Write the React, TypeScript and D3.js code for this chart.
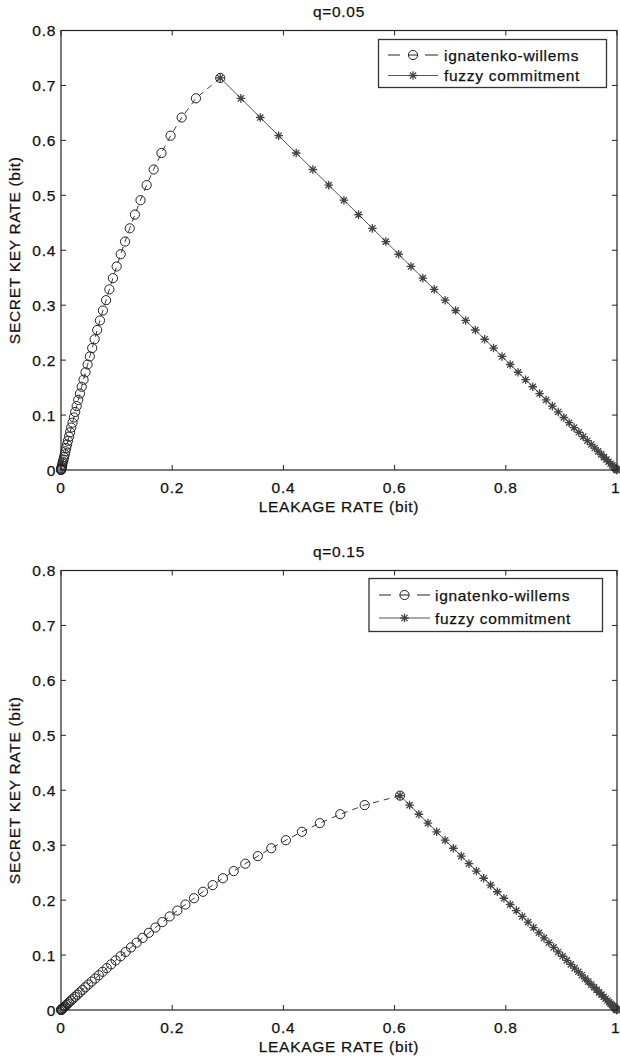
import React from "react";
import * as d3 from "d3";

// ---------- data ----------
const panelTitles = ["q=0.05", "q=0.15"];
const seriesNames = ["ignatenko-willems", "fuzzy commitment"];
const leakageTicks = [0, 0.2, 0.4, 0.6, 0.8, 1];
const keyTicks = [0, 0.1, 0.2, 0.3, 0.4, 0.5, 0.6, 0.7, 0.8];

// q = 0.05
const iwLeak05 = [0.2864, 0.2427, 0.217, 0.1971, 0.1807, 0.1666, 0.1541, 0.143, 0.1329, 0.1236, 0.1152, 0.1074, 0.1001, 0.0934, 0.087, 0.0811, 0.0754, 0.0701, 0.0651, 0.0605, 0.0561, 0.0518, 0.0478, 0.0441, 0.0406, 0.0372, 0.0341, 0.031, 0.0282, 0.0256, 0.0231, 0.0207, 0.0184, 0.0164, 0.0145, 0.0126, 0.0109, 0.0093, 0.008, 0.0068, 0.0055, 0.0045, 0.0034, 0.0027, 0.0019, 0.0013, 0.0009, 0.0005, 0.0003, 0.0001, 0];
const iwKey05 = [0.7136, 0.6765, 0.6416, 0.6085, 0.577, 0.547, 0.5185, 0.4911, 0.4649, 0.4399, 0.4158, 0.3927, 0.3705, 0.3492, 0.3288, 0.3091, 0.2903, 0.2722, 0.2548, 0.238, 0.222, 0.2067, 0.192, 0.1779, 0.1644, 0.1515, 0.1392, 0.1275, 0.1163, 0.1057, 0.0956, 0.0861, 0.0772, 0.0687, 0.0607, 0.0533, 0.0464, 0.04, 0.034, 0.0284, 0.0235, 0.019, 0.0151, 0.0115, 0.0085, 0.0059, 0.0037, 0.0021, 0.0009, 0.0002, 0];
const fcLeak05 = [0.2864, 0.3235, 0.3584, 0.3915, 0.423, 0.453, 0.4815, 0.5089, 0.5351, 0.5601, 0.5842, 0.6073, 0.6295, 0.6508, 0.6712, 0.6909, 0.7097, 0.7278, 0.7452, 0.762, 0.778, 0.7933, 0.808, 0.8221, 0.8356, 0.8485, 0.8608, 0.8725, 0.8837, 0.8943, 0.9044, 0.9139, 0.9228, 0.9313, 0.9393, 0.9467, 0.9536, 0.96, 0.966, 0.9716, 0.9765, 0.981, 0.9849, 0.9885, 0.9915, 0.9941, 0.9963, 0.9979, 0.9991, 0.9998, 1];
const fcKey05 = [0.7136, 0.6765, 0.6416, 0.6085, 0.577, 0.547, 0.5185, 0.4911, 0.4649, 0.4399, 0.4158, 0.3927, 0.3705, 0.3492, 0.3288, 0.3091, 0.2903, 0.2722, 0.2548, 0.238, 0.222, 0.2067, 0.192, 0.1779, 0.1644, 0.1515, 0.1392, 0.1275, 0.1163, 0.1057, 0.0956, 0.0861, 0.0772, 0.0687, 0.0607, 0.0533, 0.0464, 0.04, 0.034, 0.0284, 0.0235, 0.019, 0.0151, 0.0115, 0.0085, 0.0059, 0.0037, 0.0021, 0.0009, 0.0002, 0];

// q = 0.15
const iwLeak15 = [0.6098, 0.5462, 0.5023, 0.4655, 0.4333, 0.4045, 0.3782, 0.354, 0.3315, 0.3106, 0.2912, 0.2728, 0.2554, 0.2392, 0.2238, 0.2092, 0.1954, 0.1823, 0.1698, 0.158, 0.1468, 0.136, 0.1259, 0.1163, 0.1072, 0.0984, 0.0902, 0.0823, 0.0749, 0.068, 0.0614, 0.0551, 0.0492, 0.0438, 0.0386, 0.0338, 0.0294, 0.0253, 0.0215, 0.018, 0.0148, 0.012, 0.0094, 0.0073, 0.0053, 0.0037, 0.0023, 0.0013, 0.0006, 0.0002, 0];
const iwKey15 = [0.3902, 0.373, 0.3563, 0.3401, 0.3244, 0.3091, 0.2944, 0.2801, 0.2663, 0.2529, 0.2398, 0.2273, 0.2152, 0.2034, 0.192, 0.181, 0.1703, 0.16, 0.1501, 0.1405, 0.1313, 0.1225, 0.1139, 0.1057, 0.0978, 0.0903, 0.0831, 0.0762, 0.0696, 0.0633, 0.0573, 0.0517, 0.0464, 0.0413, 0.0366, 0.0321, 0.0279, 0.024, 0.0205, 0.0172, 0.0142, 0.0115, 0.0091, 0.0069, 0.0051, 0.0035, 0.0023, 0.0013, 0.0006, 0.0001, 0];
const fcLeak15 = [0.6098, 0.627, 0.6437, 0.6599, 0.6756, 0.6909, 0.7056, 0.7199, 0.7337, 0.7471, 0.7602, 0.7727, 0.7848, 0.7966, 0.808, 0.819, 0.8297, 0.84, 0.8499, 0.8595, 0.8687, 0.8775, 0.8861, 0.8943, 0.9022, 0.9097, 0.9169, 0.9238, 0.9304, 0.9367, 0.9427, 0.9483, 0.9536, 0.9587, 0.9634, 0.9679, 0.9721, 0.976, 0.9795, 0.9828, 0.9858, 0.9885, 0.9909, 0.9931, 0.9949, 0.9965, 0.9977, 0.9987, 0.9994, 0.9999, 1];
const fcKey15 = [0.3902, 0.373, 0.3563, 0.3401, 0.3244, 0.3091, 0.2944, 0.2801, 0.2663, 0.2529, 0.2398, 0.2273, 0.2152, 0.2034, 0.192, 0.181, 0.1703, 0.16, 0.1501, 0.1405, 0.1313, 0.1225, 0.1139, 0.1057, 0.0978, 0.0903, 0.0831, 0.0762, 0.0696, 0.0633, 0.0573, 0.0517, 0.0464, 0.0413, 0.0366, 0.0321, 0.0279, 0.024, 0.0205, 0.0172, 0.0142, 0.0115, 0.0091, 0.0069, 0.0051, 0.0035, 0.0023, 0.0013, 0.0006, 0.0001, 0];

// ---------- layout / style ----------
const W = 620;
const H = 1060;
const FONT = "'Liberation Sans', Arial, Helvetica, sans-serif";
const FS = 15.5;
const LS = 0.7;
const TXT = "#111";

const panels = [
  {
    title: panelTitles[0],
    iw: { x: iwLeak05, y: iwKey05 },
    fc: { x: fcLeak05, y: fcKey05 },
    top: 30.5,
    bottom: 470,
    legend: { x0: 378.5, x1: 606.5, y0: 39.5, y1: 87.5, r1: 55, r2: 75.5, s0: 388, s1: 438, t: 444 },
  },
  {
    title: panelTitles[1],
    iw: { x: iwLeak15, y: iwKey15 },
    fc: { x: fcLeak15, y: fcKey15 },
    top: 570.5,
    bottom: 1010,
    legend: { x0: 369, x1: 602.5, y0: 578.5, y1: 631.5, r1: 595, r2: 618, s0: 379, s1: 430, t: 435 },
  },
];

const LEFT = 61;
const RIGHT = 617;
const TICK = 5;
const CIRCLE_R = 4.6;
const STAR = 4.3;

function starPath(cx: number, cy: number, s: number) {
  const d = s * 0.72;
  return `M${cx - s},${cy}L${cx + s},${cy}M${cx},${cy - s}L${cx},${cy + s}M${cx - d},${cy - d}L${cx + d},${cy + d}M${cx - d},${cy + d}L${cx + d},${cy - d}`;
}

function Panel({ p }: { p: (typeof panels)[number] }) {
  const x = d3.scaleLinear().domain([0, 1]).range([LEFT, RIGHT]);
  const y = d3.scaleLinear().domain([0, 0.8]).range([p.bottom, p.top]);
  const mk = (xs: number[], ys: number[]) =>
    d3
      .line<number>()
      .x((v) => x(v))
      .y((_, i) => y(ys[i]))(xs) || "";
  const iwPath = mk(p.iw.x, p.iw.y);
  const fcPath = mk(p.fc.x, p.fc.y);
  const L = p.legend;
  const midX = (LEFT + RIGHT) / 2;
  const midY = (p.top + p.bottom) / 2;
  const mkx = (L.s0 + L.s1) / 2;
  const textStyle = {
    fontFamily: FONT,
    fontSize: FS,
    letterSpacing: LS,
    fill: TXT,
    stroke: TXT,
    strokeWidth: 0.25,
  } as const;

  return (
    <g>
      {/* title */}
      <text x={midX} y={p.top - 13.5} textAnchor="middle" style={textStyle}>
        {p.title}
      </text>

      {/* ticks on all sides */}
      {leakageTicks.map((t) => {
        const edge = x(t) + 6 > W;
        return (
          <g key={"xt" + t}>
            <line x1={x(t)} x2={x(t)} y1={p.bottom} y2={p.bottom - TICK} stroke="#222" strokeWidth={1} />
            <line x1={x(t)} x2={x(t)} y1={p.top} y2={p.top + TICK} stroke="#222" strokeWidth={1} />
            <text
              x={edge ? W - 0.5 : x(t)}
              y={p.bottom + 23}
              textAnchor={edge ? "end" : "middle"}
              style={{ ...textStyle, letterSpacing: edge ? 0 : LS }}
            >
              {String(t)}
            </text>
          </g>
        );
      })}
      {keyTicks.map((t) => (
        <g key={"yt" + t}>
          <line x1={LEFT} x2={LEFT + TICK} y1={y(t)} y2={y(t)} stroke="#222" strokeWidth={1} />
          <line x1={RIGHT} x2={RIGHT - TICK} y1={y(t)} y2={y(t)} stroke="#222" strokeWidth={1} />
          <text x={56} y={y(t) + 5.5} textAnchor="end" style={textStyle}>
            {String(t)}
          </text>
        </g>
      ))}

      {/* axis labels */}
      <text x={midX} y={p.bottom + 42} textAnchor="middle" style={textStyle}>
        LEAKAGE RATE (bit)
      </text>
      <text transform={`translate(20,${midY}) rotate(-90)`} textAnchor="middle" style={textStyle}>
        SECRET KEY RATE (bit)
      </text>

      {/* ignatenko-willems */}
      <path d={iwPath} fill="none" stroke="#222" strokeWidth={0.9} strokeDasharray="6,5" />
      {p.iw.x.map((v, i) => (
        <circle key={"c" + i} cx={x(v)} cy={y(p.iw.y[i])} r={CIRCLE_R} fill="none" stroke="#222" strokeWidth={1} />
      ))}

      {/* fuzzy commitment */}
      <path d={fcPath} fill="none" stroke="#555" strokeWidth={1} />
      {p.fc.x.map((v, i) => (
        <path key={"s" + i} d={starPath(x(v), y(p.fc.y[i]), STAR)} fill="none" stroke="#444" strokeWidth={1.3} />
      ))}

      {/* axes box */}
      <rect x={LEFT} y={p.top} width={RIGHT - LEFT} height={p.bottom - p.top} fill="none" stroke="#222" strokeWidth={1.2} />

      {/* legend */}
      <rect x={L.x0} y={L.y0} width={L.x1 - L.x0} height={L.y1 - L.y0} fill="#fff" stroke="#333" strokeWidth={1.3} />
      <line x1={L.s0} x2={L.s0 + 12} y1={L.r1} y2={L.r1} stroke="#222" strokeWidth={1} />
      <line x1={mkx - CIRCLE_R} x2={mkx + CIRCLE_R} y1={L.r1} y2={L.r1} stroke="#222" strokeWidth={1} />
      <line x1={L.s1 - 13} x2={L.s1} y1={L.r1} y2={L.r1} stroke="#222" strokeWidth={1} />
      <circle cx={mkx} cy={L.r1} r={CIRCLE_R} fill="none" stroke="#222" strokeWidth={1} />
      <text x={L.t} y={L.r1 + 5.5} style={textStyle}>
        {seriesNames[0]}
      </text>
      <line x1={L.s0} x2={L.s1} y1={L.r2} y2={L.r2} stroke="#555" strokeWidth={1} />
      <path d={starPath(mkx, L.r2, STAR)} fill="none" stroke="#444" strokeWidth={1.3} />
      <text x={L.t} y={L.r2 + 5.5} style={textStyle}>
        {seriesNames[1]}
      </text>
    </g>
  );
}

export default function App() {
  return (
    <div style={{ position: "absolute", left: 0, top: 0 }}>
      <svg width={W} height={H} viewBox={`0 0 ${W} ${H}`} style={{ display: "block", background: "#fff" }}>
        <rect x={0} y={0} width={W} height={H} fill="#fff" />
        {panels.map((p, i) => (
          <Panel key={i} p={p} />
        ))}
      </svg>
    </div>
  );
}
